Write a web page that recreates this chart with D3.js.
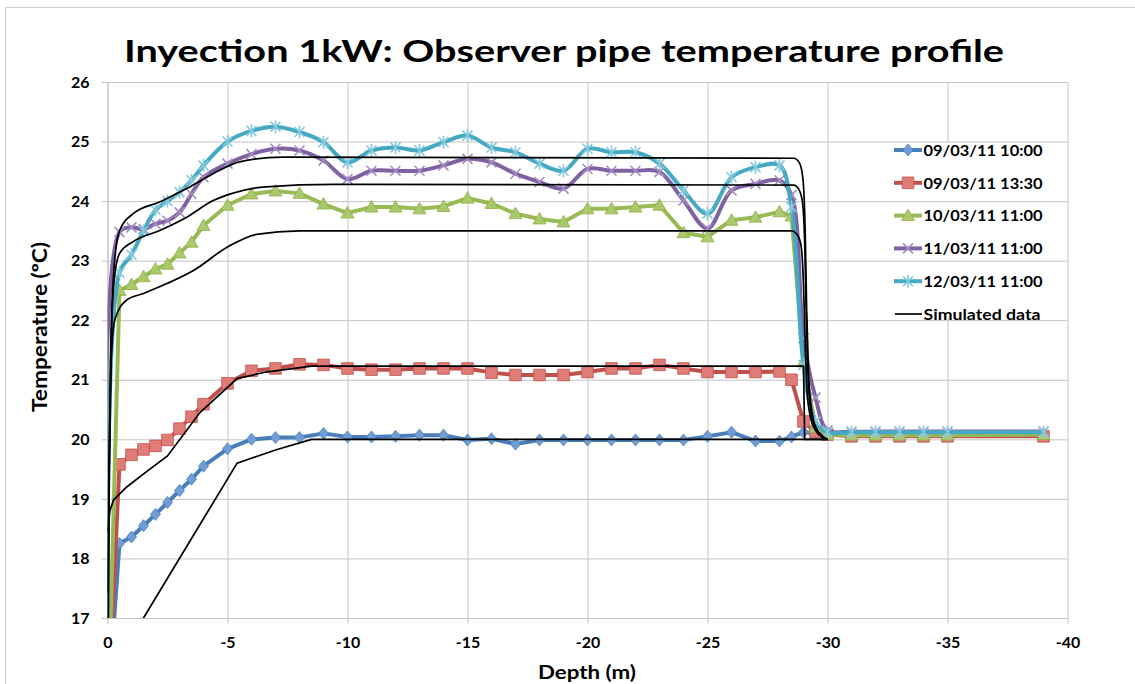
<!DOCTYPE html>
<html>
<head>
<meta charset="utf-8">
<script src="https://cdn.jsdelivr.net/npm/d3@7"></script>
<style>
  html, body { margin: 0; padding: 0; background: #fff; }
  svg { display: block; font-family: Lato, "Open Sans", "DejaVu Sans", sans-serif; }
</style>
</head>
<body>
<svg id="chart" width="1135" height="684"></svg>
<script>
// ---- data -------------------------------------------------------------
const titleText = "Inyection 1kW: Observer pipe temperature profile";
const xTitle = "Depth (m)";
const yTitle = "Temperature (ºC)";

const xTicks = [0, -5, -10, -15, -20, -25, -30, -35, -40];
const yTicks = [17, 18, 19, 20, 21, 22, 23, 24, 25, 26];

const seriesNames = ["09/03/11 10:00", "09/03/11 13:30", "10/03/11 11:00", "11/03/11 11:00", "12/03/11 11:00"];
const simName = "Simulated data";

// measurement depths (m), shared by all observed profiles
const depths = [0, -0.5, -1, -1.5, -2, -2.5, -3, -3.5, -4, -5, -6, -7, -8, -9, -10, -11, -12, -13, -14, -15,
  -16, -17, -18, -19, -20, -21, -22, -23, -24, -25, -26, -27, -28, -28.5, -29, -29.5, -30, -31, -32, -33, -34, -35, -39];

const obs0903a = [15.4, 18.25, 18.36, 18.55, 18.74, 18.94, 19.14, 19.33, 19.55, 19.84, 20.0, 20.03, 20.03, 20.1, 20.04, 20.04, 20.05, 20.07, 20.07, 19.99,
  20.01, 19.92, 19.99, 19.99, 19.99, 19.99, 19.99, 19.99, 19.99, 20.05, 20.12, 19.97, 19.97, 20.04, 20.12, 20.1, 20.08, 20.08, 20.08, 20.08, 20.08, 20.08, 20.08];

const obs0903b = [15.3, 19.58, 19.74, 19.83, 19.89, 19.99, 20.18, 20.38, 20.59, 20.94, 21.15, 21.19, 21.26, 21.25, 21.19, 21.17, 21.17, 21.19, 21.19, 21.19,
  21.12, 21.08, 21.08, 21.08, 21.13, 21.19, 21.19, 21.25, 21.19, 21.13, 21.13, 21.13, 21.14, 21.0, 20.3, 20.12, 20.08, 20.05, 20.05, 20.05, 20.05, 20.05, 20.05];

const obs1003 = [15.0, 22.5, 22.6, 22.73, 22.86, 22.94, 23.13, 23.31, 23.59, 23.93, 24.12, 24.17, 24.13, 23.95, 23.8, 23.9, 23.9, 23.87, 23.91, 24.05,
  23.96, 23.79, 23.7, 23.65, 23.87, 23.87, 23.9, 23.93, 23.47, 23.4, 23.68, 23.73, 23.82, 23.75, 21.3, 20.2, 20.08, 20.07, 20.07, 20.07, 20.07, 20.07, 20.08];

const obs1103 = [14.4, 23.48, 23.56, 23.53, 23.62, 23.67, 23.81, 24.12, 24.4, 24.63, 24.79, 24.88, 24.85, 24.68, 24.37, 24.51, 24.51, 24.51, 24.6, 24.71,
  24.65, 24.46, 24.32, 24.21, 24.54, 24.51, 24.51, 24.49, 24.01, 23.54, 24.18, 24.29, 24.35, 24.1, 21.7, 20.7, 20.15, 20.13, 20.13, 20.13, 20.13, 20.13, 20.13];

const obs1203 = [16.6, 22.8, 23.1, 23.5, 23.85, 24.0, 24.15, 24.35, 24.6, 25.0, 25.18, 25.25, 25.16, 24.99, 24.65, 24.85, 24.9, 24.85, 24.99, 25.1,
  24.9, 24.82, 24.63, 24.51, 24.88, 24.82, 24.82, 24.63, 24.18, 23.79, 24.4, 24.57, 24.6, 23.9, 21.25, 20.3, 20.12, 20.12, 20.12, 20.12, 20.12, 20.12, 20.12];

// simulated profiles, [depth, temperature]
const simA = [[0, 16.0], [-1.5, 17.0], [-4.2, 18.8], [-5.4, 19.6], [-7, 19.82], [-8.5, 20.0], [-30, 20.0]];
const simB = [[0, 18.45], [-0.1, 18.8], [-0.25, 18.98], [-0.8, 19.2], [-1.6, 19.45], [-2.5, 19.72], [-3.85, 20.45], [-5.4, 21.02],
  [-6.6, 21.13], [-8.5, 21.23], [-29.0, 21.23], [-29.05, 20.0], [-30, 20.0]];
const simC = [[0, 17.4], [-0.05, 19.2], [-0.12, 21.0], [-0.3, 22.0], [-0.8, 22.34], [-1.5, 22.45], [-2.5, 22.62], [-3.6, 22.84],
  [-5.0, 23.23], [-6.2, 23.44], [-8, 23.5], [-28.5, 23.5], [-28.75, 23.43], [-28.9, 23.25], [-29.0, 22.6], [-29.08, 21.5],
  [-29.15, 20.8], [-29.3, 20.35], [-29.5, 20.15], [-29.8, 20.03], [-30, 20.0]];
const simD = [[0, 15.5], [-0.08, 19.5], [-0.18, 22.0], [-0.3, 22.75], [-0.5, 23.12], [-1.07, 23.32], [-2.2, 23.51], [-3.3, 23.73],
  [-4.4, 24.01], [-5.2, 24.13], [-6.6, 24.24], [-9.4, 24.28], [-28.6, 24.27], [-28.8, 24.2], [-28.95, 24.0], [-29.05, 23.3],
  [-29.12, 22.0], [-29.2, 21.0], [-29.3, 20.5], [-29.5, 20.2], [-29.8, 20.05], [-30, 20.0]];
const simE = [[0, 15.0], [-0.07, 19.5], [-0.15, 21.8], [-0.3, 23.0], [-0.5, 23.5], [-1.07, 23.79], [-2.2, 23.99], [-3.3, 24.21],
  [-4.4, 24.46], [-5.5, 24.66], [-7.3, 24.74], [-28.6, 24.72], [-28.82, 24.65], [-28.97, 24.4], [-29.07, 23.5], [-29.13, 22.2],
  [-29.2, 21.2], [-29.32, 20.55], [-29.5, 20.22], [-29.8, 20.05], [-30, 20.0]];

// ---- layout & styles --------------------------------------------------
const plot = { left: 107.5, right: 1067.5, top: 82, bottom: 618 };
const gridColor = "#c4c4c4";

const styles = [
  { line: "#4a7ebb", fill: "#6f9ed6", stroke: "#4a7ebb", marker: "diamond", smooth: false },
  { line: "#c0504d", fill: "#e07c78", stroke: "#c0504d", marker: "square", smooth: false },
  { line: "#98b954", fill: "#a9c96c", stroke: "#8fb04a", marker: "triangle", smooth: false },
  { line: "#7f62a1", fill: "none", stroke: "#a48ec6", marker: "times", smooth: true },
  { line: "#45a9c4", fill: "none", stroke: "#86c9dc", marker: "asterisk", smooth: true }
];

const markerPath = {
  diamond: "M0,-6L5,0L0,6L-5,0Z",
  square: "M-5.8,-5.8H5.8V5.8H-5.8Z",
  triangle: "M0,-6.5L6.5,5H-6.5Z",
  times: "M-5,-5L5,5M-5,5L5,-5",
  asterisk: "M-5,-5L5,5M-5,5L5,-5M0,-6.5V6.5"
};

// ---- drawing -----------------------------------------------------------
const svg = d3.select("#chart");

const x = d3.scaleLinear().domain([0, -40]).range([plot.left, plot.right]);
const y = d3.scaleLinear().domain([17, 26]).range([plot.bottom, plot.top]);

// outer chart frame
svg.append("path")
  .attr("d", "M5.5,690V7.5H1140")
  .attr("fill", "none").attr("stroke", "#d0d0d0").attr("stroke-width", 1.2);

// title
svg.append("text")
  .attr("x", 564).attr("y", 61.5)
  .attr("text-anchor", "middle")
  .attr("font-size", 31).attr("font-weight", 700)
  .attr("textLength", 880).attr("lengthAdjust", "spacingAndGlyphs")
  .text(titleText);

// vertical gridlines (with small outward ticks)
svg.append("g")
  .attr("transform", `translate(0,${plot.bottom})`)
  .call(d3.axisBottom(x).tickValues(xTicks).tickSize(-(plot.bottom - plot.top)).tickFormat(""))
  .call(g => g.select(".domain").remove())
  .call(g => g.selectAll("line").attr("stroke", gridColor).attr("y2", 6).attr("y1", -(plot.bottom - plot.top)));

// backing panel of the legend hides the vertical rule under it
svg.append("rect")
  .attr("x", 886).attr("y", 142.5).attr("width", 165).attr("height", 176)
  .attr("fill", "#fff");

// horizontal gridlines
svg.append("g")
  .attr("transform", `translate(${plot.left},0)`)
  .call(d3.axisLeft(y).tickValues(yTicks).tickSize(-(plot.right - plot.left)).tickFormat(""))
  .call(g => g.select(".domain").remove())
  .call(g => g.selectAll("line").attr("stroke", gridColor).attr("x1", -6).attr("x2", plot.right - plot.left));

// axes with labels
const yAxis = svg.append("g")
  .attr("transform", `translate(${plot.left},0)`)
  .call(d3.axisLeft(y).tickValues(yTicks).tickSize(0).tickPadding(18).tickFormat(d => String(d)));
yAxis.select(".domain").attr("stroke", gridColor);
yAxis.selectAll("text").attr("font-size", 16).attr("font-weight", 700).attr("fill", "#000")
  .attr("font-family", "Lato, 'Open Sans', sans-serif");

const xAxis = svg.append("g")
  .attr("transform", `translate(0,${plot.bottom})`)
  .call(d3.axisBottom(x).tickValues(xTicks).tickSize(0).tickPadding(19).tickFormat(d => String(d)));
xAxis.select(".domain").attr("stroke", gridColor);
xAxis.selectAll("text").attr("font-size", 16).attr("font-weight", 700).attr("fill", "#000")
  .attr("font-family", "Lato, 'Open Sans', sans-serif");

// axis titles
svg.append("text")
  .attr("x", 587).attr("y", 678.5)
  .attr("text-anchor", "middle")
  .attr("font-size", 19).attr("font-weight", 700)
  .attr("textLength", 98).attr("lengthAdjust", "spacingAndGlyphs")
  .text(xTitle);

svg.append("text")
  .attr("transform", "translate(47,327) rotate(-90)")
  .attr("text-anchor", "middle")
  .attr("font-size", 21).attr("font-weight", 700)
  .attr("textLength", 170).attr("lengthAdjust", "spacingAndGlyphs")
  .text(yTitle);

// plot clip
svg.append("clipPath").attr("id", "plotClip")
  .append("rect")
  .attr("x", plot.left).attr("y", plot.top)
  .attr("width", plot.right - plot.left).attr("height", plot.bottom - plot.top);

const plotG = svg.append("g").attr("clip-path", "url(#plotClip)");

const observed = [obs0903a, obs0903b, obs1003, obs1103, obs1203];

observed.forEach((vals, i) => {
  const st = styles[i];
  const pts = depths.map((d, k) => [d, vals[k]]);
  const line = d3.line()
    .x(p => x(p[0])).y(p => y(p[1]))
    .curve(st.smooth ? d3.curveCatmullRom.alpha(0.5) : d3.curveLinear);
  const g = plotG.append("g");
  g.append("path")
    .attr("d", line(pts))
    .attr("fill", "none")
    .attr("stroke", st.line)
    .attr("stroke-width", 4)
    .attr("stroke-linejoin", "round")
    .attr("stroke-linecap", "round");
  g.selectAll("path.mk")
    .data(pts)
    .join("path")
    .attr("class", "mk")
    .attr("transform", p => `translate(${x(p[0])},${y(p[1])})`)
    .attr("d", markerPath[st.marker])
    .attr("fill", st.fill)
    .attr("stroke", st.stroke)
    .attr("stroke-width", st.fill === "none" ? 1.6 : 0.8);
});

// simulated profiles drawn on top
const simLine = d3.line().x(p => x(p[0])).y(p => y(p[1])).curve(d3.curveMonotoneX);
const simLinear = d3.line().x(p => x(p[0])).y(p => y(p[1]));
[simA, simB].forEach(s => {
  plotG.append("path").attr("d", simLinear(s))
    .attr("fill", "none").attr("stroke", "#000").attr("stroke-width", 1.7);
});
[simC, simD, simE].forEach(s => {
  plotG.append("path").attr("d", simLine(s))
    .attr("fill", "none").attr("stroke", "#000").attr("stroke-width", 1.7);
});

// legend
const legend = svg.append("g");
const rowY = d3.range(6).map(i => 150 + i * 32.8);
const legendItems = seriesNames.concat([simName]);
legendItems.forEach((name, i) => {
  const cy = rowY[i];
  const row = legend.append("g");
  if (i < 5) {
    const st = styles[i];
    row.append("line").attr("x1", 894).attr("x2", 922).attr("y1", cy).attr("y2", cy)
      .attr("stroke", st.line).attr("stroke-width", 4);
    row.append("path").attr("transform", `translate(908,${cy})`)
      .attr("d", markerPath[st.marker])
      .attr("fill", st.fill).attr("stroke", st.stroke)
      .attr("stroke-width", st.fill === "none" ? 1.6 : 0.8);
  } else {
    row.append("line").attr("x1", 895).attr("x2", 922).attr("y1", cy).attr("y2", cy)
      .attr("stroke", "#000").attr("stroke-width", 1.7);
  }
  row.append("text")
    .attr("x", 923.5).attr("y", cy + 5.8)
    .attr("font-size", 16).attr("font-weight", 700)
    .attr("textLength", i < 5 ? 119 : 117).attr("lengthAdjust", "spacingAndGlyphs")
    .text(name);
});
</script>
</body>
</html>
